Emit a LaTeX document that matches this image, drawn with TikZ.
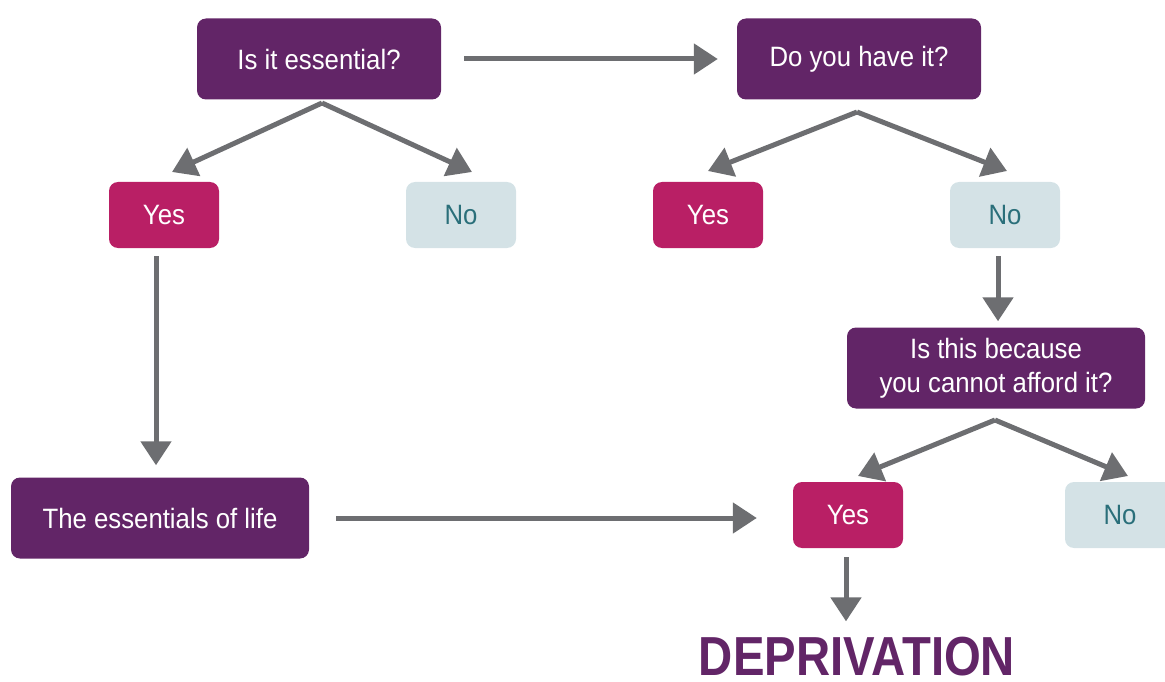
\documentclass[tikz,border=0pt]{standalone}
\usepackage{fontspec}
\setmainfont{Liberation Sans}[FakeStretch=0.92]
\newfontfamily\boldcond{Liberation Sans}[FakeStretch=0.86]
\usetikzlibrary{arrows.meta}
\definecolor{dpurple}{HTML}{622567}
\definecolor{magen}{HTML}{B91F65}
\definecolor{lblue}{HTML}{D4E2E6}
\definecolor{tealtxt}{HTML}{2A6F7A}
\definecolor{arrgray}{HTML}{6D6E71}
\tikzset{
  qbox/.style={fill=dpurple, text=white, rounded corners=9pt, minimum height=81pt, align=center, font=\fontsize{28}{34}\selectfont},
  yesbox/.style={fill=magen, text=white, rounded corners=9pt, minimum width=110pt, minimum height=66pt, font=\fontsize{28}{30}\selectfont},
  nobox/.style={fill=lblue, text=tealtxt, rounded corners=9pt, minimum width=110pt, minimum height=66pt, font=\fontsize{28}{30}\selectfont},
  arr/.style={draw=arrgray, line width=5pt, -{Triangle[length=24pt,width=30pt]}, color=arrgray},
}
\begin{document}
\begin{tikzpicture}[x=1pt,y=-1pt]
\useasboundingbox (0,0) rectangle (1165,682);
\node[qbox, minimum width=244pt] (q1) at (319,59) {Is it essential?};
\node[qbox, minimum width=244pt] (q2) at (859,59) {Do you have it?};
\node[yesbox] (yes1) at (164,215) {Yes};
\node[nobox] (no1) at (461,215) {No};
\node[yesbox] (yes2) at (708,215) {Yes};
\node[nobox] (no2) at (1005,215) {No};
\node[qbox, minimum width=298pt] (q3) at (996,368) {Is this because\\you cannot afford it?};
\node[yesbox] (yes3) at (848,515) {Yes};
\node[nobox] (no3) at (1120,515) {No};
\node[qbox, minimum width=298pt] (ess) at (160,518) {The essentials of life};
\node[text=dpurple, font=\boldcond\bfseries\fontsize{55}{60}\selectfont, inner sep=0pt] (dep) at (857,657) {DEPRIVATION};
% apex coordinates
\coordinate (a1) at (322,103);
\coordinate (a2) at (857,112);
\coordinate (a3) at (995,420);
% arrows
\draw[arr] (q1.east) ++(23,0) -- ([xshift=-19pt]q2.west);
\draw[arr] (a1) -- (172,172);
\draw[arr] (a1) -- (472,172);
\draw[arr] (a2) -- (708,171);
\draw[arr] (a2) -- (1007,171);
\draw[arr] (a3) -- (858,476);
\draw[arr] (a3) -- (1128,476);
\draw[arr] ([shift={(-8,8)}]yes1.south) -- ([shift={(-4,-12)}]ess.north);
\draw[arr] ([xshift=-7pt]no2.south) ++(0,8) -- ([shift={(2,-6)}]q3.north);
\draw[arr] ([xshift=27pt]ess.east) -- ([xshift=-36pt,yshift=-3pt]yes3.west);
\draw[arr] ([shift={(-2,9)}]yes3.south) -- ([shift={(-11,-16)}]dep.north);
\end{tikzpicture}
\end{document}
